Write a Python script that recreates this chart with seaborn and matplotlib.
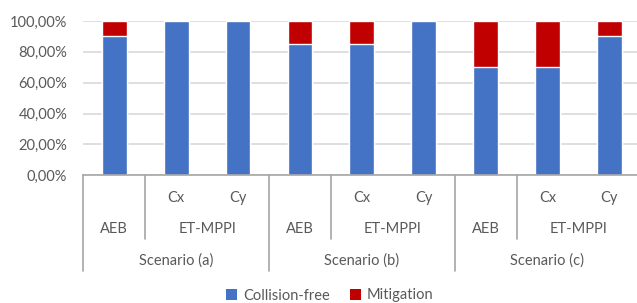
import matplotlib
matplotlib.use("Agg")
import matplotlib.pyplot as plt
import matplotlib.transforms as mtransforms
from matplotlib.patches import Patch
from matplotlib.ticker import FuncFormatter
import seaborn as sns

# ---- data ----
scenarios = ["Scenario (a)", "Scenario (b)", "Scenario (c)"]
methods = ["AEB", "ET-MPPI", "ET-MPPI"]
variants = ["", "Cx", "Cy"]
collision_free = [0.90, 1.00, 1.00, 0.85, 0.85, 1.00, 0.70, 0.70, 0.90]
mitigation = [0.10, 0.00, 0.00, 0.15, 0.15, 0.00, 0.30, 0.30, 0.10]
yticks = [0.0, 0.2, 0.4, 0.6, 0.8, 1.0]

BLUE = "#4472C4"
RED = "#C00000"
GRID = "#D9D9D9"
AXIS = "#A6A6A6"
TXT = "#595959"
FONT = "Lato"

sns.set_theme(style="white")
plt.rcParams["font.family"] = [FONT, "DejaVu Sans"]

W, H = 637, 303
fig = plt.figure(figsize=(W / 100, H / 100), dpi=100)
ax = fig.add_axes([83.3 / W, 1 - 175.3 / H, 557 / W, 154.3 / H])

keys = [f"{s}|{m}|{v}" for s in scenarios for m, v in zip(methods, variants)]
totals = [c + m for c, m in zip(collision_free, mitigation)]

sns.barplot(x=keys, y=totals, color=RED, width=0.4, saturation=1, ax=ax, order=keys)
sns.barplot(x=keys, y=collision_free, color=BLUE, width=0.4, saturation=1, ax=ax, order=keys)

ax.set_xlim(-0.5, 8.5)
ax.set_ylim(0, 1.0)
ax.set_yticks(yticks)
ax.yaxis.set_major_formatter(FuncFormatter(lambda v, p: f"{v*100:.2f}%".replace(".", ",")))
ax.tick_params(axis="y", length=0, pad=11.5, labelsize=10.5, labelcolor=TXT)
ax.set_xticks([])
ax.set_xlabel("")
ax.set_ylabel("")
ax.grid(axis="y", color=GRID, linewidth=1.2)
ax.set_axisbelow(True)
for s in ["left", "right", "top"]:
    ax.spines[s].set_visible(False)
ax.spines["bottom"].set_color(AXIS)
ax.spines["bottom"].set_linewidth(1.2)
ax.spines["bottom"].set_zorder(5)

tr = mtransforms.blended_transform_factory(ax.transData, fig.transFigure)
def fy(p):
    return 1 - p / H

# multi-level category separators
for x in [-0.5, 2.5, 5.5, 8.5]:
    ax.plot([x, x], [fy(175.3), fy(271)], color=AXIS, lw=1.2, transform=tr, clip_on=False)
for x in [0.5, 3.5, 6.5]:
    ax.plot([x, x], [fy(175.3), fy(239)], color=AXIS, lw=1.2, transform=tr, clip_on=False)

fs = 10.5
for g, scen in enumerate(scenarios):
    base = 3 * g
    ax.text(base + 1, fy(198), "Cx", transform=tr, ha="center", va="center", fontsize=fs, color=TXT)
    ax.text(base + 2, fy(198), "Cy", transform=tr, ha="center", va="center", fontsize=fs, color=TXT)
    ax.text(base + 0, fy(229), "AEB", transform=tr, ha="center", va="center", fontsize=fs, color=TXT)
    ax.text(base + 1.5, fy(229), "ET-MPPI", transform=tr, ha="center", va="center", fontsize=fs, color=TXT)
    ax.text(base + 1, fy(261), scen, transform=tr, ha="center", va="center", fontsize=fs, color=TXT)

handles = [Patch(facecolor=BLUE, edgecolor="none", label="Collision-free"),
           Patch(facecolor=RED, edgecolor="none", label="Mitigation")]
fig.legend(handles=handles, loc="center", bbox_to_anchor=(330 / W, fy(295.5)), ncol=2,
           frameon=False, fontsize=fs, labelcolor=TXT, handlelength=0.75, handleheight=0.75,
           handletextpad=0.4, columnspacing=1.4)

fig.savefig("out.png", dpi=100)
